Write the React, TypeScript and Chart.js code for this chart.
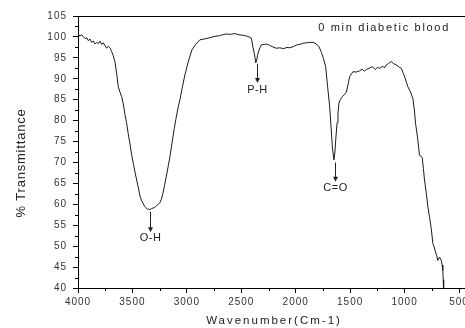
import React, { useEffect, useRef } from 'react';
import { Chart, registerables } from 'chart.js';

Chart.register(...registerables);

const seriesLabel = '0 min diabetic blood';
const xAxisTitle = 'Wavenumber(Cm-1)';
const yAxisTitle = '% Transmittance';

const wavenumbers = [
  4000, 3985, 3970, 3951, 3935, 3920, 3905, 3890, 3875, 3859, 3843, 3828, 3813, 3798, 3783, 3768,
  3752, 3737, 3722, 3706, 3691, 3676, 3661, 3645, 3630, 3614, 3599, 3584, 3569, 3554, 3539, 3523,
  3507, 3490, 3475, 3461, 3446, 3431, 3418, 3404, 3390, 3376, 3362, 3350, 3339, 3325, 3310, 3294,
  3278, 3262, 3248, 3234, 3220, 3205, 3186, 3170, 3156, 3142, 3128, 3115, 3101, 3083, 3064, 3040,
  3018, 2990, 2954, 2920, 2881, 2840, 2789, 2750, 2700, 2660, 2636, 2600, 2560, 2520, 2486, 2450,
  2420, 2407, 2395, 2380, 2367, 2358, 2349, 2330, 2315, 2290, 2269, 2240, 2210, 2180, 2147, 2110,
  2080, 2055, 2020, 1990, 1963, 1930, 1900, 1872, 1840, 1810, 1785, 1764, 1745, 1725, 1707, 1688,
  1663, 1649, 1640, 1633, 1620, 1612, 1603, 1590, 1572, 1550, 1535, 1520, 1505, 1474, 1445, 1413,
  1390, 1370, 1352, 1320, 1294, 1270, 1250, 1230, 1200, 1185, 1168, 1150, 1135, 1122, 1100, 1076,
  1050, 1030, 1015, 1000, 985, 970, 945, 924, 910, 899, 880, 863, 850, 838, 827, 817,
  800, 786, 770, 755, 740, 728, 716, 705, 695, 679, 663, 655, 649, 645, 642, 640,
];

const transmittance = [
  100.9, 100.2, 100.5, 100.1, 99.6, 99.8, 99.1, 99.5, 98.7, 99.0, 98.3, 98.7, 98.4, 99.0, 98.2, 98.6,
  97.9, 97.3, 97.8, 97.4, 96.5, 95.5, 94.1, 91.3, 88.1, 86.8, 85.7, 84.0, 81.5, 79.5, 76.9, 74.5,
  71.8, 69.5, 67.5, 65.8, 64.0, 62.0, 61.0, 60.3, 59.6, 59.2, 58.8, 58.9, 58.7, 59.0, 59.1, 59.3,
  59.7, 60.0, 60.4, 61.2, 62.6, 64.5, 67.0, 69.3, 71.3, 73.7, 76.1, 78.2, 80.3, 82.8, 85.0, 88.2,
  90.9, 93.8, 96.9, 98.2, 99.3, 99.5, 99.8, 100.1, 100.3, 100.6, 100.7, 100.6, 100.8, 100.5, 100.4, 100.2,
  99.9, 99.7, 97.8, 96.0, 93.8, 94.5, 95.8, 97.4, 98.1, 98.2, 98.3, 98.0, 97.6, 97.3, 97.4, 97.2,
  97.5, 97.4, 97.7, 98.1, 98.2, 98.5, 98.6, 98.7, 98.7, 98.3, 97.6, 96.3, 94.8, 92.9, 88.1, 83.3,
  73.5, 70.6, 72.5, 75.3, 79.5, 81.7, 84.2, 85.0, 85.7, 86.3, 86.8, 88.5, 90.5, 91.7, 91.6, 91.9,
  92.3, 91.8, 92.2, 92.6, 92.9, 92.2, 92.7, 92.5, 93.0, 92.6, 93.3, 93.6, 93.9, 94.1, 93.6, 93.3,
  92.8, 92.5, 91.5, 90.5, 89.3, 88.1, 86.8, 85.3, 82.5, 79.3, 75.8, 71.7, 71.5, 71.2, 68.5, 65.8,
  62.6, 59.4, 56.8, 54.2, 50.6, 49.8, 48.6, 47.8, 46.6, 47.4, 46.6, 45.5, 44.2, 42.0, 40.2, 39.0,
];

const xTickValues = [4000, 3500, 3000, 2500, 2000, 1500, 1000, 500];
const xMinorValues = [3750, 3250, 2750, 2250, 1750, 1250, 750];
const yMinorValues = [42.5, 47.5, 52.5, 57.5, 62.5, 67.5, 72.5, 77.5, 82.5, 87.5, 92.5, 97.5, 102.5];

const bandLabels = ['O-H', 'P-H', 'C=O'];
const bandWavenumbers = [3339, 2355, 1642];
const arrowTops = [58.2, 93.6, 70.0];
const arrowTips = [53.3, 89.0, 65.4];
const labelLevels = [51.9, 87.3, 64.0];

const FONT = "'Liberation Sans', Arial, sans-serif";

const decorPlugin = {
  id: 'decor',
  beforeDraw(chart: any) {
    (chart.ctx as any).letterSpacing = '1px';
  },
  afterDraw(chart: any) {
    const ctx = chart.ctx;
    const { left, bottom, top } = chart.chartArea;
    const xs = chart.scales.x;
    const ys = chart.scales.y;
    ctx.save();
    ctx.strokeStyle = '#000';
    ctx.lineWidth = 1;
    // top frame line
    ctx.beginPath();
    ctx.moveTo(left, Math.round(top) + 0.5);
    ctx.lineTo(chart.width, Math.round(top) + 0.5);
    ctx.stroke();
    // minor ticks
    ctx.beginPath();
    xMinorValues.forEach((v) => {
      const px = Math.round(xs.getPixelForValue(v)) + 0.5;
      ctx.moveTo(px, bottom);
      ctx.lineTo(px, bottom + 3);
    });
    yMinorValues.forEach((v) => {
      const py = Math.round(ys.getPixelForValue(v)) + 0.5;
      ctx.moveTo(left, py);
      ctx.lineTo(left - 3, py);
    });
    ctx.stroke();

    // band annotations
    ctx.fillStyle = '#222';
    ctx.strokeStyle = '#222';
    bandLabels.forEach((lab, i) => {
      const px = Math.round(xs.getPixelForValue(bandWavenumbers[i])) + 0.5;
      const y0 = ys.getPixelForValue(arrowTops[i]);
      const y1 = ys.getPixelForValue(arrowTips[i]);
      ctx.beginPath();
      ctx.moveTo(px, y0);
      ctx.lineTo(px, y1 - 4);
      ctx.stroke();
      ctx.beginPath();
      ctx.moveTo(px - 2.5, y1 - 5);
      ctx.lineTo(px + 2.5, y1 - 5);
      ctx.lineTo(px, y1);
      ctx.closePath();
      ctx.fill();
      ctx.letterSpacing = '0.5px';
      ctx.font = `11px ${FONT}`;
      ctx.textAlign = 'center';
      ctx.textBaseline = 'middle';
      ctx.fillText(lab, px, ys.getPixelForValue(labelLevels[i]));
    });

    // x axis title
    ctx.letterSpacing = '2px';
    ctx.font = `11.5px ${FONT}`;
    ctx.fillStyle = '#222';
    ctx.textAlign = 'center';
    ctx.textBaseline = 'middle';
    ctx.fillText(xAxisTitle, 274, 321);

    // y axis title
    ctx.save();
    ctx.letterSpacing = '0.8px';
    ctx.font = `13px ${FONT}`;
    ctx.fillStyle = '#222';
    ctx.translate(21, 163);
    ctx.rotate(-Math.PI / 2);
    ctx.textAlign = 'center';
    ctx.textBaseline = 'middle';
    ctx.fillText(yAxisTitle, 0, 0);
    ctx.restore();

    // series label
    ctx.letterSpacing = '1.7px';
    ctx.font = `11px ${FONT}`;
    ctx.fillStyle = '#222';
    ctx.textAlign = 'right';
    ctx.textBaseline = 'middle';
    ctx.fillText(chart.data.datasets[0].label, 450, 28);
    ctx.restore();
  },
};

export default function App() {
  const canvasRef = useRef<HTMLCanvasElement | null>(null);

  useEffect(() => {
    document.body.style.margin = '0';
    const canvas = canvasRef.current;
    if (!canvas) return;
    const chart = new Chart(canvas, {
      type: 'line',
      data: {
        datasets: [
          {
            label: seriesLabel,
            data: wavenumbers.map((w, i) => ({ x: w, y: transmittance[i] })),
            borderColor: '#1a1a1a',
            borderWidth: 1,
            pointRadius: 0,
            tension: 0,
            fill: false,
          },
        ],
      },
      options: {
        responsive: false,
        animation: false,
        layout: { padding: { top: 16, left: 0, right: 0, bottom: 0 } },
        plugins: {
          legend: { display: false },
          tooltip: { enabled: false },
        },
        scales: {
          x: {
            type: 'linear',
            reverse: true,
            min: 445,
            max: 4000,
            afterBuildTicks: (s: any) => {
              s.ticks = xTickValues.map((v) => ({ value: v }));
            },
            afterFit: (s: any) => {
              s.height = 40;
              s.paddingLeft = 0;
              s.paddingRight = 0;
            },
            ticks: {
              autoSkip: false,
              maxRotation: 0,
              padding: 3,
              color: '#333',
              font: { size: 10, family: FONT },
              callback: (v: any) => String(v),
            },
            grid: { drawOnChartArea: false, drawTicks: true, tickLength: 5, color: '#000' },
            border: { display: true, color: '#000', width: 1 },
            title: { display: false },
          },
          y: {
            type: 'linear',
            min: 40,
            max: 105,
            ticks: {
              stepSize: 5,
              padding: 6,
              color: '#333',
              font: { size: 10, family: FONT },
              callback: (v: any) => String(v),
            },
            afterFit: (s: any) => {
              s.width = 78;
            },
            grid: { drawOnChartArea: false, drawTicks: true, tickLength: 5, color: '#000' },
            border: { display: true, color: '#000', width: 1 },
            title: { display: false },
          },
        },
      },
      plugins: [decorPlugin],
    });
    return () => chart.destroy();
  }, []);

  return (
    <div style={{ width: 465, height: 328 }}>
      <canvas ref={canvasRef} width={465} height={328} style={{ display: 'block' }} />
    </div>
  );
}
